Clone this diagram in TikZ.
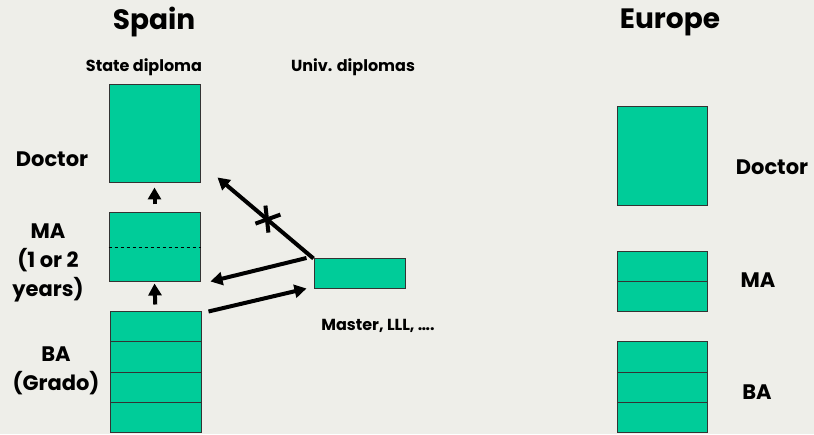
\documentclass[tikz,border=0pt]{standalone}
\usepackage{fontspec}
\setmainfont{Poppins}
\usepackage{tikz}
\usetikzlibrary{arrows.meta}
\definecolor{boxgreen}{RGB}{0,204,153}
\definecolor{bgpaper}{RGB}{238,238,233}

\begin{document}
\begin{tikzpicture}[x=1pt,y=1pt,>={Triangle[length=12pt,width=13pt]},
  cell/.style={draw=black!80,fill=boxgreen,line width=1pt,minimum width=91pt,minimum height=30pt,inner sep=0pt},
  lbl/.style={font=\bfseries\fontsize{21}{29}\selectfont,align=center},
  small/.style={font=\bfseries\fontsize{16}{18}\selectfont},
  title/.style={font=\bfseries\fontsize{28}{32}\selectfont},
  link/.style={->,line width=4pt}]
\fill[bgpaper] (0,0) rectangle (814,434);
\useasboundingbox (0,0) rectangle (814,434);
\node[title] (spain) at (154,412) {Spain};
\node[title] (europe) at (670,412) {Europe};
\node[small] (state) at (144,367) {State diploma};
\node[small] (univ) at (353,367) {Univ. diplomas};
\node[cell,minimum height=98pt] (sdoc) at (154.5,300) {};
\node[cell,minimum height=69pt] (sma) at (154.5,186.5) {};
\draw[dashed,line width=.6pt] (sma.west) -- (sma.east);
\foreach \i/\y in {1/107,2/77,3/47,4/17}
  \node[cell] (sba\i) at (155.5,\y) {};
\node[cell] (mast) at (359.5,160) {};
\node[lbl] (ldoc) at (52,275) {Doctor};
\node[lbl] (lma) at (48,171) {MA\\(1 or 2\\years)};
\node[lbl] (lba) at (56,63) {BA\\(Grado)};
\node[small] (lmast) at (378,108) {Master, LLL, ….};
\node[cell,minimum width=90pt,minimum height=99pt] (edoc) at (662,277.5) {};
\foreach \i/\y in {1/167,2/137}
  \node[cell,minimum width=90pt] (ema\i) at (662,\y) {};
\foreach \i/\y in {1/77,2/46.5,3/16.5}
  \node[cell,minimum width=90pt] (eba\i) at (662,\y) {};
\node[lbl] (edocl) at (772,267) {Doctor};
\node[lbl] (emal) at (758,154) {MA};
\node[lbl] (ebal) at (757,42) {BA};
\draw[link,shorten <=8pt,shorten >=4pt] (sma.north) -- (sdoc.south);
\draw[link,shorten <=7pt,shorten >=1pt] (sba1.north) -- (sma.south);
\coordinate (tipdoc) at ([xshift=17pt,yshift=6pt]sdoc.south east);
\draw[link] (mast.north west) -- coordinate[pos=.48] (xm) (tipdoc);
\draw[line width=4pt] ([shift={(-2,14)}]xm) -- ([shift={(1,-13)}]xm);
\draw[line width=4pt] ([shift={(-12,-4)}]xm) -- ([shift={(13,5)}]xm);
\coordinate (s1) at ([xshift=-7pt,yshift=16pt]mast.west);
\coordinate (t1) at ([xshift=10pt,yshift=1pt]sma.south east);
\draw[link] (s1) -- (t1);
\coordinate (s2) at ([xshift=7pt]sba1.north east);
\coordinate (t2) at ([xshift=-7pt,yshift=1pt]mast.south west);
\draw[link] (s2) -- (t2);
\end{tikzpicture}
\end{document}
